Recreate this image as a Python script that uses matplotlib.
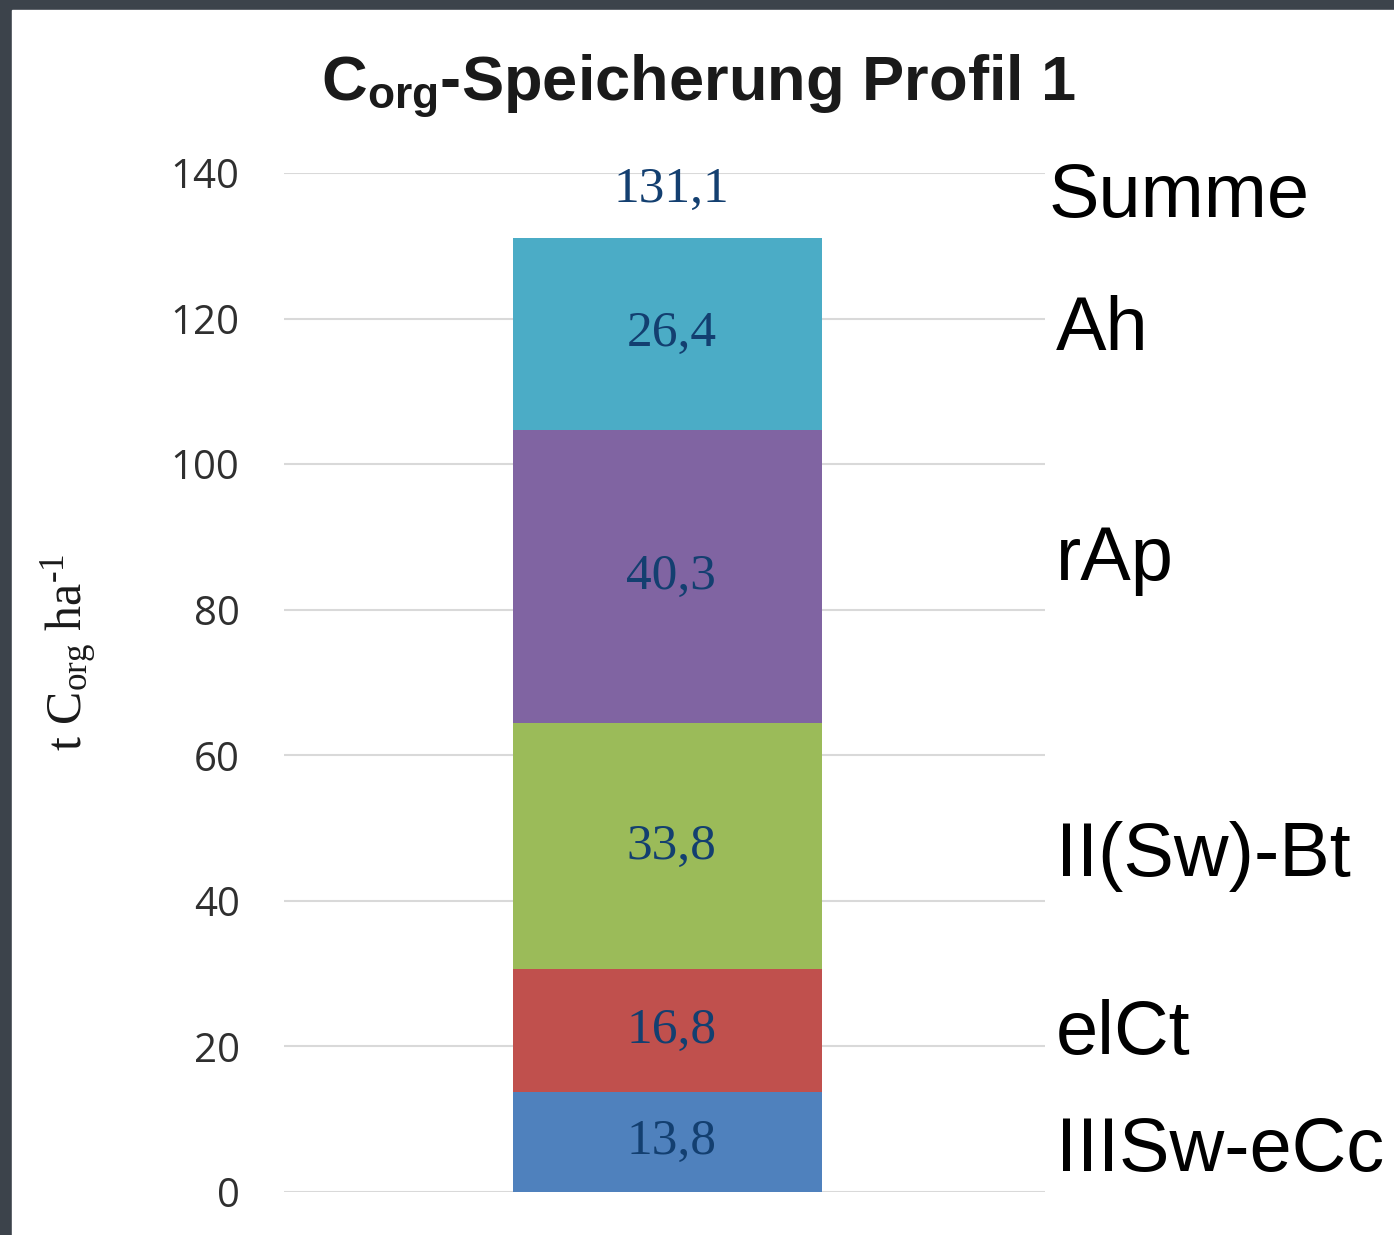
import matplotlib
matplotlib.use('Agg')
import matplotlib.pyplot as plt
from matplotlib.patches import Rectangle

# data
horizons = ['IIISw-eCc', 'elCt', 'II(Sw)-Bt', 'rAp', 'Ah']
values = [13.8, 16.8, 33.8, 40.3, 26.4]
colors = ['#4F81BD', '#C0504D', '#9BBB59', '#8064A2', '#4BACC6']
yticks = [0, 20, 40, 60, 80, 100, 120, 140]

# where the horizon names sit on the right (data units)
name_y = [5.5, 21.6, 46.1, 86.8, 118.4]

def fmt(v):
    return f'{v:.1f}'.replace('.', ',')

plt.rcParams['mathtext.fontset'] = 'custom'
plt.rcParams['mathtext.rm'] = 'Liberation Serif'
plt.rcParams['mathtext.it'] = 'Liberation Serif:italic'
plt.rcParams['mathtext.bf'] = 'Liberation Sans:bold'

fig = plt.figure(figsize=(13.94, 12.35), dpi=100)
fig.patch.set_facecolor('#3c434b')
bg = Rectangle((12 / 1394, 0), 1, (1235 - 10) / 1235,
               transform=fig.transFigure, color='white', zorder=-10)
fig.patches.append(bg)

ax = fig.add_axes([284 / 1394, 43 / 1235, 761 / 1394, 1019 / 1235])
ax.set_facecolor('none')
ax.set_zorder(1)

lab_color = '#133f70'
bottom = 0
for v, c in zip(values, colors):
    ax.bar(0.004, v, width=0.405, bottom=bottom, color=c, zorder=3)
    ax.text(0.009, bottom + v / 2, fmt(v), ha='center', va='center',
            family='Liberation Serif', fontsize=37, color=lab_color, zorder=4)
    bottom += v
total = bottom
ax.text(0.009, total + 6.6, fmt(total), ha='center', va='center',
        family='Liberation Serif', fontsize=37, color=lab_color)

ax.set_xlim(-0.5, 0.5)
ax.set_ylim(0, 140)
ax.set_yticks(yticks)
ax.set_yticklabels([str(t) for t in yticks], family='Open Sans',
                   fontsize=29, color='#2f2f2f')
ax.tick_params(axis='y', length=0, pad=32)
ax.set_xticks([])
for s in ax.spines.values():
    s.set_visible(False)
ax.grid(axis='y', color='#d9d9d9', lw=1.5, zorder=0)

# horizon names on the right
ax.text(1.005, 136.7, 'Summe', transform=ax.get_yaxis_transform(),
        ha='left', va='center', family='Liberation Sans', fontsize=54.5, color='black')
for name, y in zip(horizons, name_y):
    ax.text(1.014, y, name, transform=ax.get_yaxis_transform(),
            ha='left', va='center', family='Liberation Sans', fontsize=54.5, color='black')

fig.text(0.501, 0.919, r'C$_{\mathbf{org}}$-Speicherung Profil 1', ha='center',
         va='baseline', family='Liberation Sans', fontweight='bold', fontsize=45.5,
         color='#1a1a1a')
fig.text(70 / 1394, 1 - 652 / 1235, r't C$_{\mathrm{org}}$ ha$^{\text{-1}}$',
         rotation=90, ha='center', va='center', family='Liberation Serif',
         fontsize=36, color='#1a1a1a')

fig.savefig('out.png', dpi=100, facecolor=fig.get_facecolor())
